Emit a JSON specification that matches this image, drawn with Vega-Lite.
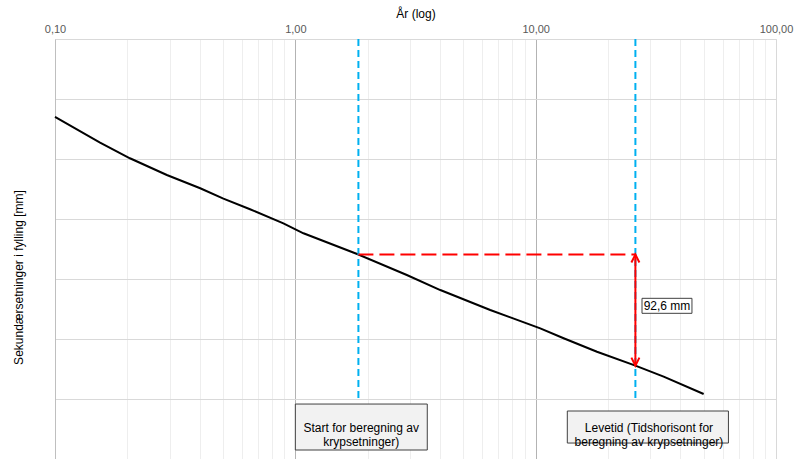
{
  "$schema": "https://vega.github.io/schema/vega-lite/v6.json",
  "width": 721,
  "height": 420,
  "autosize": {"type": "none"},
  "padding": {"left": 55, "top": 39, "right": 18, "bottom": 0},
  "background": "white",
  "config": {
    "view": {"stroke": null},
    "font": "Liberation Sans",
    "text": {"font": "Liberation Sans"}
  },
  "datasets": {
    "kurve": [
      {"aar": 0.1, "setning": 64.8},
      {"aar": 0.154, "setning": 86.4},
      {"aar": 0.205, "setning": 99.4},
      {"aar": 0.292, "setning": 113.3},
      {"aar": 0.402, "setning": 124.4},
      {"aar": 0.502, "setning": 133.0},
      {"aar": 0.648, "setning": 141.9},
      {"aar": 0.892, "setning": 153.6},
      {"aar": 1.081, "setning": 161.9},
      {"aar": 1.83, "setning": 179.6},
      {"aar": 2.91, "setning": 196.7},
      {"aar": 4.01, "setning": 209.2},
      {"aar": 6.47, "setning": 225.8},
      {"aar": 10.45, "setning": 241.1},
      {"aar": 13.07, "setning": 249.4},
      {"aar": 17.99, "setning": 260.6},
      {"aar": 26, "setning": 272.2},
      {"aar": 34.08, "setning": 281.4},
      {"aar": 50, "setning": 295.8}
    ],
    "tidspunkt": [
      {"aar": 1.83, "fra": 0, "til": 300},
      {"aar": 26, "fra": 0, "til": 300}
    ],
    "differanse": [
      {"fra_aar": 1.83, "til_aar": 26, "start": 179.6, "slutt": 272.2, "tekst": "92,6 mm"}
    ],
    "bokser": [
      {"x1": 1.0, "x2": 3.54, "y1": 304.2, "y2": 342.5, "xt": 1.88, "yt": 324.5, "tekst": "Start for beregning av\nkrypsetninger)"},
      {"x1": 13.54, "x2": 63.4, "y1": 310.0, "y2": 336.7, "xt": 29.6, "yt": 324.5, "tekst": "Levetid (Tidshorisont for\nberegning av krypsetninger)"}
    ],
    "etikett": [
      {"x1": 27.7, "x2": 44.7, "y1": 216.1, "y2": 228.6, "xt": 35.2, "yt": 222.6, "tekst": "92,6 mm"}
    ]
  },
  "encoding": {
    "x": {
      "type": "quantitative",
      "scale": {"type": "log", "domain": [0.1, 100], "nice": false}
    },
    "y": {
      "type": "quantitative",
      "scale": {"domain": [0, 350], "reverse": true, "nice": false}
    }
  },
  "layer": [
    {
      "data": {"name": "kurve"},
      "mark": {"type": "line", "color": "#000000", "strokeWidth": 2},
      "encoding": {
        "x": {
          "field": "aar",
          "type": "quantitative",
          "title": "År (log)",
          "axis": {
            "orient": "top",
            "values": [0.1, 0.2, 0.3, 0.4, 0.5, 0.6, 0.7, 0.8, 0.9, 1, 2, 3, 4, 5, 6, 7, 8, 9, 10, 20, 30, 40, 50, 60, 70, 80, 90, 100],
            "labelExpr": "(datum.value == 0.1 || datum.value == 1 || datum.value == 10 || datum.value == 100) ? replace(format(datum.value, '.2f'), '.', ',') : ''",
            "labelFont": "Liberation Sans",
            "labelFontSize": 11,
            "labelColor": "#595959",
            "labelPadding": 5,
            "labelOverlap": false,
            "labelFlush": false,
            "ticks": false,
            "domainColor": "#d9d9d9",
            "grid": true,
            "gridWidth": 1,
            "gridColor": {
              "condition": [
                {"test": "datum.value == 1 || datum.value == 10", "value": "#b3b3b3"},
                {"test": "datum.value == 100 || datum.value == 0.1", "value": "#d9d9d9"}
              ],
              "value": "#eeeeee"
            },
            "titleFont": "Liberation Sans",
            "titleFontSize": 12,
            "titleFontWeight": "normal",
            "titleColor": "#000000",
            "titlePadding": 3
          }
        },
        "y": {
          "field": "setning",
          "type": "quantitative",
          "title": "Sekundærsetninger i fylling [mm]",
          "axis": {
            "values": [0, 50, 100, 150, 200, 250, 300, 350],
            "labels": false,
            "ticks": false,
            "domainColor": "#bfbfbf",
            "grid": true,
            "gridColor": "#d9d9d9",
            "titleFont": "Liberation Sans",
            "titleFontSize": 12,
            "titleFontWeight": "normal",
            "titleColor": "#000000",
            "titlePadding": 30,
            "titleY": 238
          }
        }
      }
    },
    {
      "data": {"name": "tidspunkt"},
      "mark": {"type": "rule", "color": "#00b0f0", "strokeWidth": 2, "strokeDash": [7, 4]},
      "encoding": {
        "x": {"field": "aar", "type": "quantitative"},
        "y": {"field": "fra", "type": "quantitative"},
        "y2": {"field": "til"}
      }
    },
    {
      "data": {"name": "differanse"},
      "mark": {"type": "rule", "color": "#ff0000", "strokeWidth": 2, "strokeDash": [15, 6]},
      "encoding": {
        "x": {"field": "fra_aar", "type": "quantitative"},
        "x2": {"field": "til_aar"},
        "y": {"field": "start", "type": "quantitative"}
      }
    },
    {
      "data": {"name": "differanse"},
      "mark": {"type": "rule", "color": "#ff0000", "strokeWidth": 2},
      "encoding": {
        "x": {"field": "til_aar", "type": "quantitative"},
        "y": {"field": "start", "type": "quantitative"},
        "y2": {"field": "slutt"}
      }
    },
    {
      "data": {"name": "differanse"},
      "mark": {"type": "point", "shape": "M-1,2L0,0L1,2", "filled": false, "color": "#ff0000", "strokeWidth": 2, "size": 64, "opacity": 1},
      "encoding": {
        "x": {"field": "til_aar", "type": "quantitative"},
        "y": {"field": "start", "type": "quantitative"}
      }
    },
    {
      "data": {"name": "differanse"},
      "mark": {"type": "point", "shape": "M-1,-2L0,0L1,-2", "filled": false, "color": "#ff0000", "strokeWidth": 2, "size": 64, "opacity": 1},
      "encoding": {
        "x": {"field": "til_aar", "type": "quantitative"},
        "y": {"field": "slutt", "type": "quantitative"}
      }
    },
    {
      "data": {"name": "etikett"},
      "mark": {"type": "rect", "fill": "#ffffff", "stroke": "#404040", "strokeWidth": 1},
      "encoding": {
        "x": {"field": "x1", "type": "quantitative"},
        "x2": {"field": "x2"},
        "y": {"field": "y1", "type": "quantitative"},
        "y2": {"field": "y2"}
      }
    },
    {
      "data": {"name": "etikett"},
      "mark": {"type": "text", "fontSize": 12, "color": "#000000", "align": "center", "baseline": "middle"},
      "encoding": {
        "x": {"field": "xt", "type": "quantitative"},
        "y": {"field": "yt", "type": "quantitative"},
        "text": {"field": "tekst"}
      }
    },
    {
      "data": {"name": "bokser"},
      "mark": {"type": "rect", "fill": "#f2f2f2", "stroke": "#404040", "strokeWidth": 1},
      "encoding": {
        "x": {"field": "x1", "type": "quantitative"},
        "x2": {"field": "x2"},
        "y": {"field": "y1", "type": "quantitative"},
        "y2": {"field": "y2"}
      }
    },
    {
      "data": {"name": "bokser"},
      "mark": {"type": "text", "fontSize": 12, "color": "#000000", "align": "center", "baseline": "middle", "lineBreak": "\n", "lineHeight": 13.5},
      "encoding": {
        "x": {"field": "xt", "type": "quantitative"},
        "y": {"field": "yt", "type": "quantitative"},
        "text": {"field": "tekst"}
      }
    }
  ]
}
